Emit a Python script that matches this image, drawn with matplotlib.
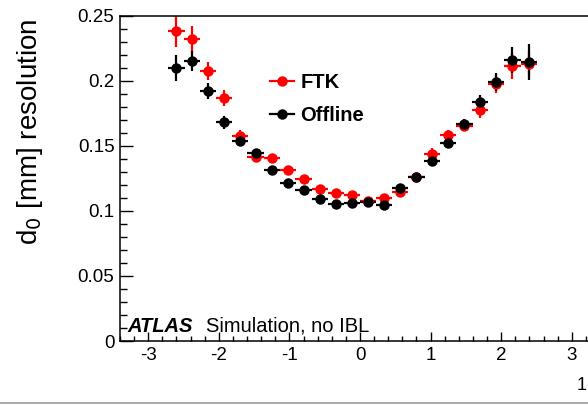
import matplotlib
matplotlib.use('Agg')
import matplotlib.pyplot as plt
from matplotlib.lines import Line2D
from matplotlib.ticker import MultipleLocator

plt.rcParams['font.family'] = ['Liberation Sans', 'DejaVu Sans']
plt.rcParams['axes.unicode_minus'] = False

# eta bin centres and d0 resolution (mm)
eta = [-2.60, -2.38, -2.15, -1.93, -1.70, -1.48, -1.25, -1.02, -0.80, -0.57, -0.34, -0.11,
       0.11, 0.34, 0.57, 0.80, 1.02, 1.25, 1.48, 1.70, 1.93, 2.16, 2.39]
eta_err = [0.114] * len(eta)

ftk = [0.2385, 0.2323, 0.2077, 0.1867, 0.1580, 0.1418, 0.1405, 0.1315, 0.1244, 0.1170, 0.1138, 0.1125,
       0.1075, 0.1103, 0.1144, 0.1262, 0.1441, 0.1585, 0.1654, 0.1777, 0.1977, 0.2118, 0.2128]
ftk_err = [0.012, 0.010, 0.007, 0.006, 0.004, 0.003, 0.003, 0.003, 0.003, 0.003, 0.003, 0.003,
           0.003, 0.003, 0.003, 0.003, 0.004, 0.004, 0.004, 0.006, 0.007, 0.010, 0.010]

offline = [0.2097, 0.2154, 0.1925, 0.1682, 0.1540, 0.1444, 0.1315, 0.1213, 0.1162, 0.1090, 0.1054, 0.1060,
           0.1067, 0.1044, 0.1174, 0.1264, 0.1383, 0.1526, 0.1669, 0.1841, 0.1990, 0.2162, 0.2146]
offline_err = [0.010, 0.008, 0.006, 0.005, 0.004, 0.003, 0.003, 0.003, 0.003, 0.003, 0.003, 0.003,
               0.003, 0.003, 0.003, 0.003, 0.004, 0.004, 0.004, 0.005, 0.007, 0.010, 0.014]

fig = plt.figure(figsize=(5.88, 4.04), dpi=100)
# axes runs past the right edge, like the cropped original
ax = fig.add_axes([120 / 588, 63 / 404, 480 / 588, 325 / 404])

ax.errorbar(eta, ftk, xerr=eta_err, yerr=ftk_err, fmt='o', color='red', ms=6.5, elinewidth=1.6, capsize=0)
ax.errorbar(eta, offline, xerr=eta_err, yerr=offline_err, fmt='o', color='black', ms=6.5, elinewidth=1.6, capsize=0)

ax.set_xlim(-3.4, 3.4)
ax.set_ylim(0, 0.25)
ax.xaxis.set_major_locator(MultipleLocator(1))
ax.xaxis.set_minor_locator(MultipleLocator(0.2))
ax.yaxis.set_minor_locator(MultipleLocator(0.01))
ax.set_yticks([0, 0.05, 0.1, 0.15, 0.2, 0.25])
ax.set_yticklabels(['0', '0.05', '0.1', '0.15', '0.2', '0.25'])

ax.tick_params(axis='both', which='both', direction='in', labelsize=13.5, width=1)
ax.tick_params(axis='y', which='major', length=9.5, pad=4)
ax.tick_params(axis='y', which='minor', length=5)
ax.tick_params(axis='x', which='major', length=6.5, pad=4)
ax.tick_params(axis='x', which='minor', length=3.5)
for s in ax.spines.values():
    s.set_linewidth(1.1)

fig.text(30 / 588, (404 - 132) / 404, 'd$_0$ [mm] resolution', rotation=90, ha='center', va='center',
         fontsize=20)

ax.text(7 / 480, 9 / 325, 'ATLAS', fontsize=14.5, fontweight='bold', style='italic', transform=ax.transAxes,
        va='baseline')
ax.text(86 / 480, 9 / 325, 'Simulation, no IBL', fontsize=14.5, transform=ax.transAxes, va='baseline')

handles = [Line2D([], [], color='red', marker='o', lw=1.6, ms=6.5, label='FTK'),
           Line2D([], [], color='black', marker='o', lw=1.6, ms=6.5, label='Offline')]
ax.legend(handles=handles, loc='upper left', bbox_to_anchor=(150 / 480, 268 / 325), frameon=False,
          prop={'size': 14.5, 'weight': 'bold'}, handlelength=1.2, handletextpad=0.3, labelspacing=0.7,
          borderpad=0, borderaxespad=0)

fig.text(587 / 588, 19 / 404, '1', fontsize=13, ha='right', va='center')
fig.add_artist(Line2D([0, 1], [1.5 / 404, 1.5 / 404], color='#999999', lw=1.2, transform=fig.transFigure))

plt.savefig('out.png', dpi=100)
